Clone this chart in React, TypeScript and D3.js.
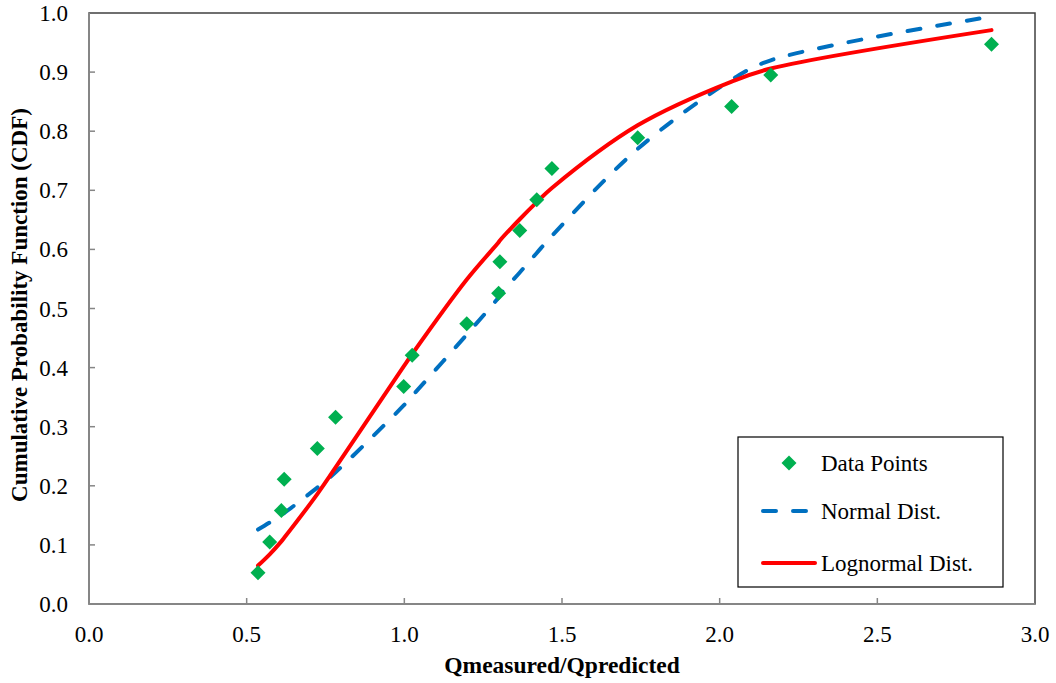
import React from "react";
import * as d3 from "d3";

const qRatio = [0.536, 0.573, 0.610, 0.619, 0.724, 0.782, 0.998, 1.025, 1.198, 1.299, 1.303, 1.366, 1.420, 1.468, 1.740, 2.038, 2.162, 2.862];
const cdfPoints = [0.053, 0.105, 0.158, 0.211, 0.263, 0.316, 0.368, 0.421, 0.474, 0.526, 0.579, 0.632, 0.684, 0.737, 0.789, 0.842, 0.895, 0.947];
const normalCdf = [0.126, 0.138, 0.151, 0.154, 0.197, 0.223, 0.336, 0.352, 0.456, 0.519, 0.523, 0.561, 0.594, 0.623, 0.770, 0.887, 0.920, 0.994];
const lognormalCdf = [0.065, 0.084, 0.106, 0.112, 0.186, 0.231, 0.402, 0.423, 0.549, 0.612, 0.615, 0.651, 0.680, 0.704, 0.810, 0.884, 0.906, 0.971];
const xTicks = [0, 0.5, 1.0, 1.5, 2.0, 2.5, 3.0];
const yTicks = [0, 0.1, 0.2, 0.3, 0.4, 0.5, 0.6, 0.7, 0.8, 0.9, 1.0];
const legendLabels = ["Data Points", "Normal Dist.", "Lognormal Dist."];

const GREEN = "#00B050";
const BLUE = "#0070C0";
const RED = "#FF0000";
const FONT = "'Liberation Serif', 'Times New Roman', serif";

export default function App() {
  const W = 1056, H = 683;
  const x = d3.scaleLinear().domain([0, 3]).range([89, 1035]);
  const y = d3.scaleLinear().domain([0, 1]).range([604, 13]);

  const line = (vals: number[]) =>
    d3.line<number>()
      .x((_, i) => x(qRatio[i]))
      .y((v) => y(v))
      .curve(d3.curveCatmullRom.alpha(0.5))(vals) || "";

  const diamond = (cx: number, cy: number, r = 7.5) =>
    `M${cx},${cy - r}L${cx + r},${cy}L${cx},${cy + r}L${cx - r},${cy}Z`;

  const [x0, x1] = x.range();
  const [y0, y1] = y.range();

  return (
    <svg width={W} height={H} style={{ position: "absolute", left: 0, top: 0, background: "#fff" }} fontFamily={FONT}>
      <rect x={0} y={0} width={W} height={H} fill="#fff" />
      <rect x={x0} y={y1} width={x1 - x0} height={y0 - y1} fill="none" stroke="#404040" strokeWidth={1.5} />
      <line x1={x0} x2={x0} y1={y0} y2={y1} stroke="#868686" strokeWidth={2} />
      <line x1={x0} x2={x1} y1={y0} y2={y0} stroke="#868686" strokeWidth={2} />
      {yTicks.map((t) => (
        <g key={"y" + t}>
          {t > 0 && t < 1 && <line x1={x0} x2={x0 + 6} y1={y(t)} y2={y(t)} stroke="#868686" strokeWidth={1.5} />}
          <text x={68} y={y(t)} dy="0.35em" textAnchor="end" fontSize={23} fill="#000">{t.toFixed(1)}</text>
        </g>
      ))}
      {xTicks.map((t) => (
        <g key={"x" + t}>
          {t > 0 && t < 3 && <line x1={x(t)} x2={x(t)} y1={y0} y2={y0 - 6} stroke="#868686" strokeWidth={1.5} />}
          <text x={x(t)} y={642} textAnchor="middle" fontSize={23} fill="#000">{t.toFixed(1)}</text>
        </g>
      ))}
      <text x={562} y={673} textAnchor="middle" fontSize={23.5} fontWeight="bold">Qmeasured/Qpredicted</text>
      <text transform={`translate(27,305) rotate(-90)`} textAnchor="middle" fontSize={23} fontWeight="bold">Cumulative Probability Function (CDF)</text>

      <path d={line(normalCdf)} fill="none" stroke={BLUE} strokeWidth={4} strokeDasharray="13 17" strokeLinecap="round" />
      <path d={line(lognormalCdf)} fill="none" stroke={RED} strokeWidth={4} strokeLinecap="round" />
      {qRatio.map((q, i) => (
        <path key={"p" + i} d={diamond(x(q), y(cdfPoints[i]))} fill={GREEN} />
      ))}

      <rect x={738} y={437} width={265} height={150} fill="#fff" stroke="#000" strokeWidth={1.2} />
      <path d={diamond(789, 463)} fill={GREEN} />
      <line x1={763} x2={810} y1={511} y2={511} stroke={BLUE} strokeWidth={4} strokeDasharray="13 17" strokeLinecap="round" />
      <line x1={763} x2={815} y1={563} y2={563} stroke={RED} strokeWidth={4} strokeLinecap="round" />
      {legendLabels.map((l, i) => (
        <text key={l} x={821} y={[463, 511, 563][i]} dy="0.35em" fontSize={23} fill="#000">{l}</text>
      ))}
    </svg>
  );
}
